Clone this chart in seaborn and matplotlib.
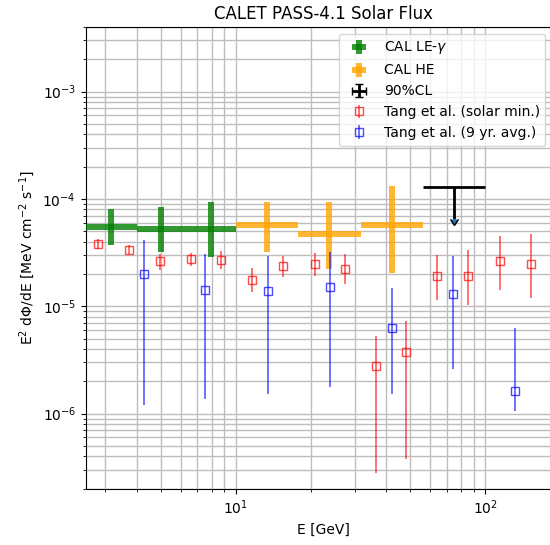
import numpy as np
import matplotlib
matplotlib.use("Agg")
import matplotlib.pyplot as plt
import seaborn as sns

# CAL LE-gamma (green)
le_x = [3.16, 5.02, 7.94]
le_xlo = [2.5, 4.0, 6.31]
le_xhi = [4.0, 6.31, 10.0]
le_y = [5.5e-5, 5.3e-5, 5.3e-5]
le_ylo = [3.76e-5, 3.23e-5, 2.86e-5]
le_yhi = [8.1e-5, 8.35e-5, 9.4e-5]

# CAL HE (orange)
he_x = [13.3, 23.7, 42.2]
he_xlo = [10.0, 17.8, 31.6]
he_xhi = [17.8, 31.6, 56.2]
he_y = [5.68e-5, 4.72e-5, 5.73e-5]
he_ylo = [3.2e-5, 2.23e-5, 2.03e-5]
he_yhi = [9.4e-5, 9.4e-5, 1.31e-4]

# 90% CL upper limit
ul_x = [75.0]
ul_xlo = [56.2]
ul_xhi = [100.0]
ul_y = [1.3e-4]
ul_ylo = [6.5e-5]

# Tang et al. (solar min.)
smin_x = [2.79, 3.73, 4.96, 6.62, 8.71, 11.6, 15.5, 20.7, 27.5, 36.6, 48.1, 64.0, 85.5, 115.0, 152.0]
smin_y = [3.81e-5, 3.35e-5, 2.62e-5, 2.78e-5, 2.70e-5, 1.76e-5, 2.39e-5, 2.48e-5, 2.24e-5,
          2.76e-6, 3.73e-6, 1.93e-5, 1.93e-5, 2.62e-5, 2.48e-5]
smin_lo = [3.45e-5, 3.05e-5, 2.18e-5, 2.38e-5, 2.24e-5, 1.35e-5, 1.86e-5, 1.93e-5, 1.62e-5,
           2.8e-7, 3.8e-7, 1.15e-5, 1.02e-5, 1.43e-5, 1.19e-5]
smin_hi = [4.2e-5, 3.7e-5, 3.08e-5, 3.14e-5, 3.25e-5, 2.26e-5, 2.97e-5, 3.14e-5, 3.08e-5,
           5.26e-6, 7.25e-6, 3.03e-5, 3.35e-5, 4.55e-5, 4.72e-5]

# Tang et al. (9 yr. avg.)
avg_x = [4.29, 7.53, 13.4, 23.8, 42.3, 74.2, 131.6]
avg_y = [2.0e-5, 1.43e-5, 1.39e-5, 1.52e-5, 6.3e-6, 1.30e-5, 1.61e-6]
avg_lo = [1.2e-6, 1.37e-6, 1.53e-6, 1.76e-6, 1.51e-6, 2.6e-6, 1.05e-6]
avg_hi = [4.15e-5, 3.08e-5, 2.97e-5, 3.23e-5, 1.48e-5, 2.97e-5, 6.3e-6]


def asym(c, lo, hi):
    c, lo, hi = np.array(c), np.array(lo), np.array(hi)
    return [c - lo, hi - c]


sns.set_style("ticks")
plt.rcParams['font.family'] = ['DejaVu Sans']
plt.rcParams.update({'xtick.major.size': 3.5, 'ytick.major.size': 3.5,
                     'xtick.minor.size': 2, 'ytick.minor.size': 2,
                     'axes.edgecolor': 'black', 'xtick.color': 'black',
                     'ytick.color': 'black', 'text.color': 'black',
                     'axes.labelcolor': 'black'})

fig = plt.figure(figsize=(5.5, 5.45), dpi=100)
ax = fig.add_axes([0.1558, 0.1033, 1.0189 - 0.1558, 0.9505 - 0.1033])

h1 = ax.errorbar(le_x, le_y, xerr=asym(le_x, le_xlo, le_xhi), yerr=asym(le_y, le_ylo, le_yhi),
                 fmt='none', ecolor='green', elinewidth=4.3, alpha=0.8, label='CAL LE-$\\gamma$', zorder=3)
h2 = ax.errorbar(he_x, he_y, xerr=asym(he_x, he_xlo, he_xhi), yerr=asym(he_y, he_ylo, he_yhi),
                 fmt='none', ecolor='orange', elinewidth=4.3, alpha=0.8, label='CAL HE', zorder=3)
h3 = ax.errorbar(ul_x, ul_y, xerr=asym(ul_x, ul_xlo, ul_xhi),
                 yerr=np.array(ul_y) - np.array(ul_ylo), uplims=True,
                 fmt='none', ecolor='black', elinewidth=2, label='90%CL', zorder=4)
h4 = ax.errorbar(smin_x, smin_y, yerr=asym(smin_y, smin_lo, smin_hi), fmt='s', ms=6,
                 mfc='none', mec='red', color='red', ecolor='red', elinewidth=1.1,
                 alpha=0.7, label='Tang et al. (solar min.)', zorder=5)
h5 = ax.errorbar(avg_x, avg_y, yerr=asym(avg_y, avg_lo, avg_hi), fmt='s', ms=6,
                 mfc='none', mec='blue', color='blue', ecolor='blue', elinewidth=1.1,
                 alpha=0.7, label='Tang et al. (9 yr. avg.)', zorder=5)

ax.set_xscale('log')
ax.set_yscale('log')
ax.set_xlim(2.5, 200)
ax.set_ylim(2e-7, 4e-3)
ax.grid(True, which='both', color='#bdbdbd', linewidth=1.0, zorder=0)
ax.set_axisbelow(True)

ax.set_title('CALET PASS-4.1 Solar Flux', fontsize=12)
ax.set_xlabel('E [GeV]', fontsize=10)
ax.set_ylabel('E$^2$ d$\\Phi$/dE [MeV cm$^{-2}$ s$^{-1}$]', fontsize=10)
ax.tick_params(labelsize=10)

ax.legend(handles=[h1, h2, h3, h4, h5], loc='upper right', bbox_to_anchor=(0.983, 1.0),
          fontsize=10, framealpha=0.8)

fig.savefig('out.png', dpi=100)
